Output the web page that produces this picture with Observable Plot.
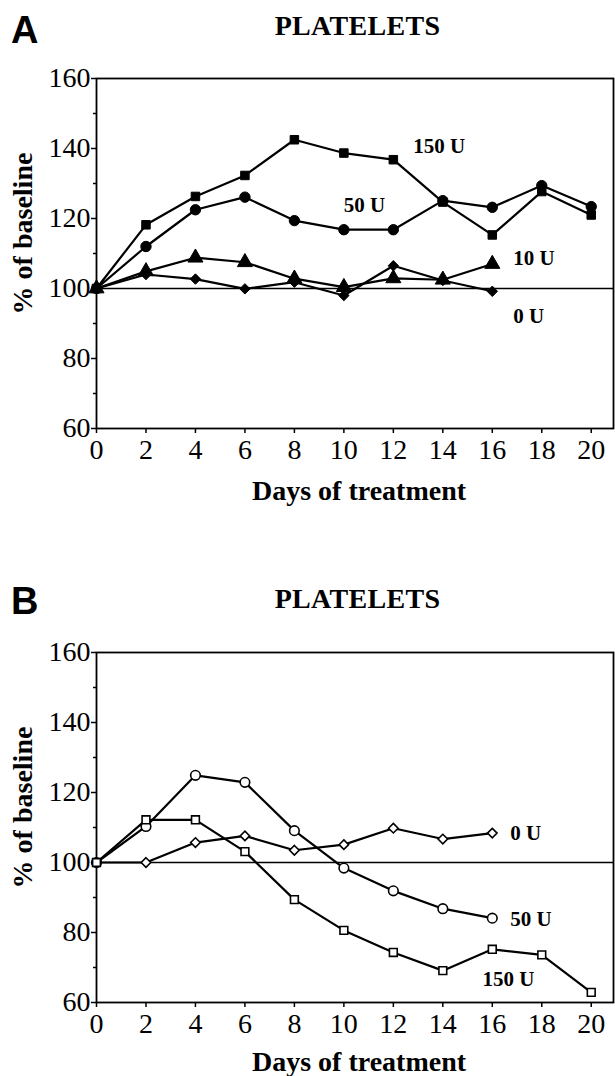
<!DOCTYPE html>
<html>
<head>
<meta charset="utf-8">
<script src="https://cdn.jsdelivr.net/npm/d3@7"></script>
<script src="https://cdn.jsdelivr.net/npm/@observablehq/plot@0.6"></script>
<style>
  html, body { margin: 0; padding: 0; background: #fff; }
  #wrap { position: relative; width: 615px; height: 1076px; overflow: hidden; background: #fff;
          font-family: "Liberation Serif", "Times New Roman", serif; color: #000; }
  .letter { position: absolute; left: 11px; font-family: "Liberation Sans", Arial, sans-serif;
            font-weight: bold; font-size: 38px; line-height: 38px; }
  .title { position: absolute; left: 0; width: 715px; text-align: center; font-weight: bold;
           font-size: 28px; line-height: 28px; letter-spacing: 0.3px; }
  .chart { position: absolute; left: 0; }
  #wrap g[aria-label="x-axis tick label"], #wrap g[aria-label="y-axis tick label"] {
    font-size: 28px !important; font-family: "Liberation Serif", "Times New Roman", serif !important;
  }
</style>
</head>
<body>
<div id="wrap">
  <div class="letter" style="top:11px">A</div>
  <div class="title" style="top:12px">PLATELETS</div>
  <div class="chart" id="chartA" style="top:0px"></div>
  <div class="letter" style="top:582px">B</div>
  <div class="title" style="top:585px">PLATELETS</div>
  <div class="chart" id="chartB" style="top:574px"></div>
</div>
<script>
// ---- data ----
const days = [0, 2, 4, 6, 8, 10, 12, 14, 16, 18, 20];
const yTicks = [60, 80, 100, 120, 140, 160];
const yMinorTicks = [70, 90, 110, 130, 150];

// Panel A (filled symbols)
const a150 = [100, 118.2, 126.3, 132.3, 142.5, 138.7, 136.8, 124.7, 115.3, 127.7, 121];
const a50  = [100, 112, 122.5, 126.1, 119.4, 116.8, 116.8, 125.1, 123.2, 129.4, 123.4];
const a10  = [100, 104.9, 108.8, 107.5, 102.8, 100.4, 102.9, 102.5, 107];
const a0   = [100, 104, 102.7, 99.9, 101.8, 98, 106.5, 102.3, 99.2];

// Panel B (open symbols)
const b0   = [100, 100, 105.7, 107.6, 103.5, 105.1, 109.8, 106.7, 108.4];
const b50  = [100, 110.3, 124.9, 122.9, 109.1, 98.4, 91.9, 86.8, 84.1];
const b150 = [100, 112.2, 112.2, 103.1, 89.4, 80.6, 74.3, 69.1, 75.2, 73.6, 62.9];

// Series labels: [text, day, value]
const labelsA = [["150 U", 12.8, 140.6], ["50 U", 10.0, 123.7], ["10 U", 16.85, 108.6], ["0 U", 16.85, 92]];
const labelsB = [["0 U", 16.73, 108.4], ["50 U", 16.73, 83.9], ["150 U", 15.6, 66.5]];

const xLabel = "Days of treatment";
const yLabel = "% of baseline";

function rows(name, values, symbol, r) {
  return values.map((v, i) => ({series: name, day: days[i], value: v, symbol, r}));
}

function panel(seriesList, labels, open, xLabelDy) {
  const marks = [
    Plot.ruleY([100], {stroke: "#000", strokeWidth: 1.6}),
    Plot.frame({stroke: "#000", strokeWidth: 1.8}),
    Plot.axisY({ticks: yMinorTicks, tickSize: 3, text: null, label: null, strokeWidth: 1.5}),
    Plot.axisY({ticks: yTicks, tickSize: 5, tickPadding: 1, tickFormat: d => String(d), strokeWidth: 1.5,
                fontSize: 28, label: null}),
    Plot.axisX({ticks: days, tickSize: 5, tickPadding: 6, tickFormat: d => String(d), strokeWidth: 1.5,
                fontSize: 28, label: null}),
    Plot.text([yLabel], {frameAnchor: "left", textAnchor: "middle", lineAnchor: "middle", rotate: -90,
                dx: -73, dy: -20, fontWeight: "bold", fontSize: 28}),
    Plot.text([xLabel], {frameAnchor: "bottom", textAnchor: "middle", lineAnchor: "middle", dy: xLabelDy, dx: 4,
                fontWeight: "bold", fontSize: 28})
  ];
  for (const s of seriesList) {
    marks.push(Plot.line(s, {x: "day", y: "value", stroke: "#000", strokeWidth: 2.2}));
  }
  for (const s of seriesList) {
    marks.push(Plot.dot(s, {x: "day", y: "value", symbol: d => d.symbol, r: d => d.r,
      fill: open ? "#fff" : "#000", stroke: "#000", strokeWidth: open ? 1.6 : 1}));
  }
  marks.push(Plot.text(labels, {x: d => d[1], y: d => d[2], text: d => d[0], textAnchor: "start",
    fontWeight: "bold", fontSize: 21}));
  return Plot.plot({
    width: 615, height: 520,
    marginLeft: 96, marginRight: 2, marginTop: 78, marginBottom: 92,
    x: {domain: [0, 20.9]},
    y: {domain: [60, 160]},
    symbol: {type: "identity"},
    r: {type: "identity"},
    style: {fontFamily: "'Liberation Serif', 'Times New Roman', serif", fontSize: "28px", color: "#000",
            background: "transparent", overflow: "visible"},
    marks
  });
}

const seriesA = [
  rows("150 U", a150, "square", 4.8),
  rows("50 U", a50, "circle", 5.2),
  rows("10 U", a10, "triangle", 5.6),
  rows("0 U", a0, "diamond2", 4.7)
];
const seriesB = [
  rows("0 U", b0, "diamond2", 4.3),
  rows("50 U", b50, "circle", 4.8),
  rows("150 U", b150, "square", 4.4)
];

document.getElementById("chartA").appendChild(panel(seriesA, labelsA, false, 63));
document.getElementById("chartB").appendChild(panel(seriesB, labelsB, true, 60));
</script>
</body>
</html>
